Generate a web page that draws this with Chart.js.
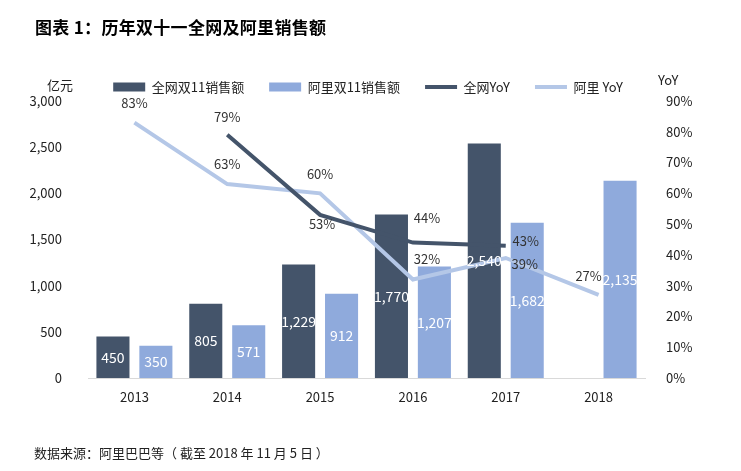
<!DOCTYPE html>
<html>
<head>
<meta charset="utf-8">
<script src="https://cdn.jsdelivr.net/npm/chart.js@4"></script>
<style>
  body { margin: 0; background: #fff; }
  #wrap { position: relative; width: 741px; height: 471px; font-family: 'Noto Sans CJK SC', sans-serif; color: #222; }
  #chart { position: absolute; left: 0; top: 0; }
  .txt { position: absolute; line-height: 1; white-space: nowrap; }
  #title { left: 35px; top: 18px; font-size: 17px; font-weight: bold; color: #000; letter-spacing: 0.3px; }
  #source { left: 34px; top: 446px; font-size: 13px; }
  #unitLeft { left: 47px; top: 78px; font-size: 13px; }
  #unitRight { left: 658px; top: 73px; font-size: 13px; }
</style>
</head>
<body>
<div id="wrap">
  <canvas id="chart" width="741" height="471"></canvas>
  <div class="txt" id="title">图表 1：历年双十一全网及阿里销售额</div>
  <div class="txt" id="unitLeft">亿元</div>
  <div class="txt" id="unitRight">YoY</div>
  <div class="txt" id="source">数据来源：阿里巴巴等（ 截至 2018 年 11 月 5 日 ）</div>
</div>
<script>
//Chart data
const years = ["2013", "2014", "2015", "2016", "2017", "2018"];
const totalSales = [450, 805, 1229, 1770, 2540, null];
const aliSales = [350, 571, 912, 1207, 1682, 2135];
const totalYoY = [null, 79, 53, 44, 43, null];
const aliYoY = [83, 63, 60, 32, 39, 27];

//Where each % label sits relative to its point (dx, dy)
const totalYoYLabelShift = [null, [0, -18], [2, 9], [14, -25], [20, -5], null];
const aliYoYLabelShift = [[0, -19], [0, -20], [0, -19], [14, -20], [19, 6], [-10, -19]];

const darkColor = "#44546a";
const lightBarColor = "#8faadc";
const lightLineColor = "#b4c7e7";

Chart.defaults.font.family = "'Noto Sans CJK SC', sans-serif";
Chart.defaults.font.size = 13;
Chart.defaults.color = "#222";

//Draw the value labels on bars and lines
const valueLabels = {
  id: "valueLabels",
  afterDatasetsDraw(chart) {
    const ctx = chart.ctx;
    ctx.save();
    ctx.textAlign = "center";
    ctx.textBaseline = "middle";
    chart.data.datasets.forEach((ds, i) => {
      const meta = chart.getDatasetMeta(i);
      meta.data.forEach((el, j) => {
        const v = ds.data[j];
        if (v == null) return;
        if (ds.type === "bar") {
          ctx.font = "14px 'Noto Sans CJK SC', sans-serif";
          ctx.fillStyle = "#fff";
          ctx.fillText(v.toLocaleString("en-US"), el.x, (el.y + el.base) / 2);
        } else {
          const shift = ds.labelShift[j];
          ctx.font = "13px 'Noto Sans CJK SC', sans-serif";
          ctx.fillStyle = "#333";
          ctx.fillText(v + "%", el.x + shift[0], el.y + shift[1]);
        }
      });
    });
    ctx.restore();
  },
};

const config = {
  data: {
    labels: years,
    datasets: [
      {
        type: "bar",
        label: "全网双11销售额",
        data: totalSales,
        backgroundColor: darkColor,
        pointStyle: "rect",
        yAxisID: "y",
        order: 2,
      },
      {
        type: "bar",
        label: "阿里双11销售额",
        data: aliSales,
        backgroundColor: lightBarColor,
        pointStyle: "rect",
        yAxisID: "y",
        order: 2,
      },
      {
        type: "line",
        label: "全网YoY",
        data: totalYoY,
        borderColor: darkColor,
        borderWidth: 4,
        pointRadius: 0,
        pointStyle: "line",
        pointBorderColor: darkColor,
        pointBorderWidth: 4,
        labelShift: totalYoYLabelShift,
        yAxisID: "y1",
        order: 1,
      },
      {
        type: "line",
        label: "阿里 YoY",
        data: aliYoY,
        borderColor: lightLineColor,
        borderWidth: 4,
        pointRadius: 0,
        pointStyle: "line",
        pointBorderColor: lightLineColor,
        pointBorderWidth: 4,
        labelShift: aliYoYLabelShift,
        yAxisID: "y1",
        order: 1,
      },
    ],
  },
  options: {
    responsive: false,
    animation: false,
    devicePixelRatio: 1,
    layout: { padding: { left: 0, right: 5, top: 55.5, bottom: 53 } },
    datasets: {
      bar: { categoryPercentage: 0.925, barPercentage: 0.77 },
    },
    plugins: {
      tooltip: { enabled: false },
      legend: {
        position: "top",
        maxHeight: 45.5,
        labels: {
          usePointStyle: true,
          pointStyleWidth: 32,
          boxHeight: 9,
          padding: 25,
          color: "#222",
          font: { size: 13 },
          sort: (a, b) => a.datasetIndex - b.datasetIndex,
        },
      },
    },
    scales: {
      x: {
        grid: { display: false },
        border: { color: "#d9d9d9", width: 1 },
        ticks: { padding: 3, color: "#222" },
        afterFit(scale) {
          scale.height = 40;
        },
      },
      y: {
        position: "left",
        min: 0,
        max: 3000,
        grid: { display: false },
        border: { display: false },
        ticks: {
          stepSize: 500,
          padding: 18,
          color: "#222",
          callback: (v) => v.toLocaleString("en-US"),
        },
        afterFit(scale) {
          scale.width = 88;
        },
      },
      y1: {
        position: "right",
        min: 0,
        max: 90,
        grid: { display: false },
        border: { display: false },
        ticks: {
          stepSize: 10,
          padding: 13,
          color: "#222",
          callback: (v) => v + "%",
        },
        afterFit(scale) {
          scale.width = 91;
        },
      },
    },
  },
  plugins: [valueLabels],
};

new Chart(document.getElementById("chart"), config);
</script>
</body>
</html>
